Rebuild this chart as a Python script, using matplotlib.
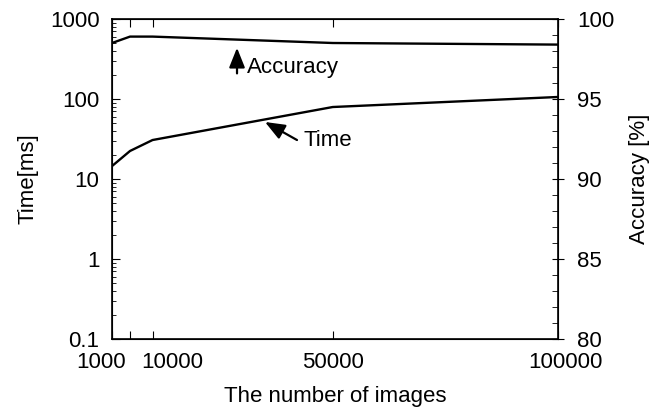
import matplotlib
matplotlib.use("Agg")
import matplotlib.pyplot as plt
import matplotlib.transforms as mtransforms
from matplotlib.ticker import FixedLocator, NullFormatter, LogLocator

plt.rcParams['font.family'] = ['Liberation Sans', 'DejaVu Sans']
plt.rcParams['font.size'] = 16

images = [1000, 5000, 10000, 50000, 100000]
time_ms = [14.5, 22.4, 30.7, 79.4, 106]
accuracy = [98.5, 98.9, 98.9, 98.5, 98.4]

x_ticks = [1000, 5000, 10000, 50000, 100000]
x_tick_labels = ['1000', '', '10000', '50000', '100000']
y_ticks = [0.1, 1, 10, 100, 1000]
y_tick_labels = ['0.1', '1', '10', '100', '1000']
acc_ticks = [80, 85, 90, 95, 100]

fig = plt.figure(figsize=(6.64, 4.11), dpi=100)
ax = fig.add_axes([112/664, 1-339/411, (558-112)/664, (339-19)/411])
ax.set_yscale('log')
ax.plot(images, time_ms, color='black', lw=1.7)
ax.set_xlim(1000, 100000)
ax.set_ylim(0.1, 1000)
ax.set_xticks(x_ticks)
ax.set_xticklabels(x_tick_labels)
ax.set_yticks(y_ticks)
ax.set_yticklabels(y_tick_labels)
ax.yaxis.set_minor_locator(LogLocator(base=10, subs=range(2, 10)))
ax.yaxis.set_minor_formatter(NullFormatter())
ax.tick_params(axis='both', which='major', direction='in', length=6, width=0.8, top=True)
ax.tick_params(axis='y', which='minor', direction='in', length=3, width=0.6)
ax.tick_params(axis='x', pad=9)
ax.tick_params(axis='y', pad=9)
for sp in ax.spines.values():
    sp.set_linewidth(1.2)
# shift crowded x labels apart as in the reference
shifts = {0: -11, 2: 20, 4: 7}
for i, lbl in enumerate(ax.get_xticklabels()):
    if i in shifts:
        lbl.set_transform(lbl.get_transform() +
                          mtransforms.ScaledTranslation(shifts[i]/100, 0, fig.dpi_scale_trans))
ax.set_xlabel('The number of images', labelpad=10)
ax.set_ylabel('Time[ms]', labelpad=8)

ax2 = ax.twinx()
ax2.plot(images, accuracy, color='black', lw=1.7)
ax2.set_ylim(80, 100)
ax2.set_yticks(acc_ticks)
ax2.yaxis.set_minor_locator(FixedLocator(list(range(80, 101))))
ax2.tick_params(axis='y', which='major', direction='inout', length=8, width=0.8, pad=10)
ax2.tick_params(axis='y', which='minor', direction='in', length=4, width=0.6)
ax2.set_ylabel('Accuracy [%]', labelpad=10)

arrow_style = dict(arrowstyle='-|>,head_length=0.75,head_width=0.3', color='black',
                   lw=1.6, mutation_scale=16, shrinkA=0, shrinkB=0)
ax2.annotate('', xy=(28750, 98.2), xytext=(28750, 96.6), arrowprops=arrow_style)
ax2.text(30970, 96.94, 'Accuracy', ha='left', va='center')
ax.annotate('', xy=(34960, 51.6), xytext=(42065, 30.7), arrowprops=arrow_style)
ax.text(43400, 30.7, 'Time', ha='left', va='center')

fig.savefig('out.png', dpi=100)
